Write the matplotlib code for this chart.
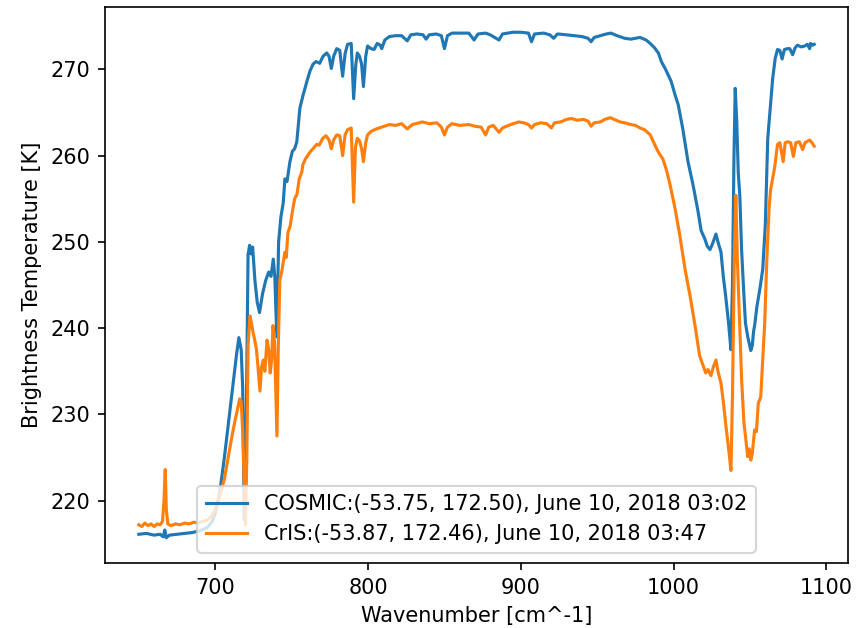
import matplotlib
matplotlib.use("Agg")
import matplotlib.pyplot as plt

# COSMIC simulated spectrum (wavenumber, brightness temperature)
cosmic_wn = [650, 655, 660, 664, 666, 667, 668, 670, 675, 680, 685, 690, 695, 698,
             700, 703, 706, 709, 712, 714, 715.5, 717, 718, 719, 720.5, 721.5, 722.5,
             723.5, 724.5, 726, 727.5, 729, 731, 733, 735, 736.5, 738, 739, 740.3,
             741.5, 743, 744.5, 745.6, 747, 748.9, 750.5, 752, 753.4, 755.4, 757.5,
             760, 762, 764, 766, 768.4, 770.5, 773, 774.5, 776, 777.5, 779.5, 781.5,
             783.4, 785, 786.6, 789, 790.6, 792, 793, 794.5, 795.8, 797, 798.5, 799.7,
             802, 804, 806, 808, 809, 811, 814, 818, 822, 825.7, 828, 832, 836, 838,
             840, 844.6, 848, 850, 852, 855, 860, 866, 869.4, 872, 877, 880, 885.7,
             888, 895, 900, 905, 907, 909, 915, 919, 921.5, 924, 930, 935, 940, 944,
             946, 948, 952, 956, 959, 963, 968, 972, 975, 978, 982, 984.7, 987.5, 990,
             992, 995, 998.4, 1001, 1003, 1006, 1009.4, 1011, 1012.7, 1016, 1018,
             1020.5, 1022, 1023.8, 1025.5, 1027.7, 1029, 1031, 1032.5, 1034, 1036,
             1037.5, 1038.5, 1039.5, 1040.3, 1041.3, 1042.3, 1043.3, 1044.5, 1046,
             1047, 1048.5, 1049.5, 1050.5, 1051.5, 1052.3, 1053, 1054.5, 1056.4,
             1058.3, 1060, 1061.6, 1063, 1064.8, 1066.5, 1068, 1069.5, 1071, 1072.5,
             1074.6, 1076, 1077.9, 1079.5, 1081, 1083.5, 1085.7, 1087.5, 1089, 1089.6,
             1091, 1092]
cosmic_bt = [216.1, 216.2, 216.0, 216.1, 215.8, 216.6, 215.7, 216.0, 216.1, 216.2, 216.3,
             216.5, 216.9, 217.6, 218.5, 221.0, 225.0, 229.5, 234.0, 237.0, 238.9, 237.5,
             233.0, 217.8, 232.0, 248.5, 249.6, 248.6, 249.4, 245.5, 243.0, 241.8, 244.0,
             245.5, 246.5, 246.0, 248.0, 246.0, 239.0, 250.0, 252.9, 254.5, 257.3, 257.0,
             259.3, 260.5, 260.8, 261.6, 265.5, 267.0, 268.6, 269.8, 270.6, 270.9, 270.7,
             271.5, 271.9, 271.5, 270.1, 271.5, 272.4, 272.2, 269.2, 271.8, 272.9, 273.0,
             266.6, 270.5, 271.9, 271.5, 270.6, 268.0, 271.5, 272.7, 272.4, 272.3, 273.0,
             272.8, 272.4, 273.4, 273.8, 273.9, 273.9, 273.3, 274.0, 274.1, 274.0, 273.5,
             274.0, 274.1, 273.9, 272.4, 273.9, 274.2, 274.2, 274.2, 273.4, 274.1, 274.2,
             274.0, 273.4, 274.1, 274.3, 274.3, 274.2, 273.2, 274.1, 274.2, 274.0, 273.6,
             274.1, 274.0, 273.9, 273.8, 273.6, 273.2, 273.7, 273.9, 274.1, 274.2, 273.9,
             273.6, 273.5, 273.6, 273.7, 273.4, 273.0, 272.5, 271.9, 270.9, 269.9, 268.6,
             267.0, 265.9, 263.1, 259.3, 258.0, 256.6, 253.5, 251.3, 250.3, 249.5, 249.1,
             249.8, 250.9, 250.0, 248.8, 246.0, 243.8, 240.5, 237.5, 245.0, 260.0, 267.8,
             264.0, 258.0, 255.4, 249.0, 243.8, 240.6, 239.0, 238.2, 237.4, 238.0, 239.6,
             240.3, 242.5, 244.5, 246.8, 252.0, 262.0, 265.0, 268.9, 271.3, 272.3, 272.2,
             271.2, 272.3, 272.4, 272.4, 271.7, 272.5, 272.8, 272.6, 272.7, 272.9, 272.4,
             273.0, 272.8, 272.9]

# CrIS observed spectrum
cris_wn = [650, 652, 654, 656, 658, 660, 662, 664, 665.5, 666.5, 667.3, 668, 669, 671,
           674, 677, 680, 683, 686, 689, 692, 695, 698, 700, 703, 706, 709, 711, 713,
           714.5, 716, 717, 718, 719, 719.8, 720.7, 721.5, 722.8, 723.8, 724.8, 726,
           727, 728, 729.3, 730.3, 731.5, 732.5, 733.9, 735, 736, 737, 737.8, 738.8,
           739.6, 740.4, 741.3, 742.3, 743.5, 745.6, 746.5, 747.6, 749, 750.8, 752,
           753.5, 755, 756.7, 757.3, 759, 762, 764, 766.4, 768, 770.4, 772.5, 774.5,
           776, 777.5, 779.5, 781.5, 783.4, 785, 786.6, 789, 790.6, 791.8, 793, 794.5,
           795.8, 797, 798.5, 799.7, 802, 805.5, 809, 814, 818, 822, 825.7, 829, 835.5,
           840, 845, 848, 850, 852, 855, 860, 866, 870, 874, 877, 879, 882, 885.7, 888,
           892, 895, 898.7, 902, 905, 907, 909, 913, 917, 920, 922, 926, 930, 933, 937,
           941, 944, 946, 948, 952, 955, 958.6, 961, 965, 968, 972, 975, 978, 981,
           984.7, 987, 990, 993, 995.5, 997.7, 1001, 1004, 1007.5, 1010.7, 1014, 1017,
           1019, 1021, 1022.5, 1024.4, 1026, 1027.7, 1029, 1031, 1032.5, 1034, 1036,
           1037.5, 1038.5, 1039.7, 1040.7, 1041.7, 1043.3, 1044.5, 1046, 1047, 1048.5,
           1049.5, 1050.5, 1051.5, 1053, 1054.2, 1055.4, 1057, 1058.2, 1059.6, 1061,
           1062.5, 1063.5, 1066, 1068, 1069.5, 1071.7, 1073, 1074.6, 1076.5, 1078.4,
           1080, 1082.3, 1084.4, 1086, 1088, 1089, 1090.5, 1092]
cris_bt = [217.2, 217.0, 217.4, 217.1, 217.3, 217.0, 217.3, 217.2, 217.6, 220.0, 223.6,
           219.0, 217.3, 217.1, 217.3, 217.2, 217.4, 217.3, 217.5, 217.4, 217.6, 217.8,
           218.3, 219.0, 220.6, 222.5, 225.5, 227.5, 229.3, 230.5, 231.8, 231.5, 228.0,
           222.0, 217.2, 225.0, 238.0, 241.4, 240.5, 239.5, 238.5, 237.5, 235.5, 232.7,
           235.5, 236.3, 235.0, 238.6, 237.5, 234.8, 236.5, 240.3, 238.5, 233.0, 227.5,
           238.0, 245.6, 246.5, 248.8, 248.2, 251.1, 251.8, 253.8, 255.0, 255.5, 257.3,
           258.1, 258.9, 259.6, 260.4, 260.8, 261.3, 261.2, 262.0, 262.3, 261.8, 260.8,
           261.8, 262.4, 262.3, 260.0, 262.4, 263.0, 263.2, 254.6, 261.0, 262.0, 261.7,
           260.8, 259.3, 261.5, 262.4, 262.8, 263.1, 263.3, 263.6, 263.5, 263.7, 263.1,
           263.6, 263.9, 263.7, 263.8, 263.3, 262.4, 263.3, 263.7, 263.5, 263.6, 263.4,
           263.3, 262.4, 263.3, 263.5, 262.7, 263.2, 263.5, 263.7, 263.9, 263.8, 263.6,
           263.2, 263.6, 263.8, 263.7, 263.2, 263.8, 263.9, 264.2, 264.3, 264.1, 264.2,
           264.0, 263.4, 263.8, 263.9, 264.2, 264.4, 264.2, 263.9, 263.8, 263.6, 263.5,
           263.2, 263.0, 262.4, 261.5, 260.4, 259.6, 258.2, 256.6, 253.8, 250.8, 246.8,
           243.8, 240.3, 236.8, 235.8, 234.8, 235.2, 234.5, 235.5, 236.3, 235.0, 233.6,
           231.5, 229.0, 226.0, 223.5, 232.0, 248.0, 255.4, 248.0, 239.8, 234.0, 229.0,
           227.5, 225.1, 226.0, 224.7, 225.5, 228.2, 228.0, 231.3, 232.0, 236.0, 240.6,
           248.0, 254.0, 256.1, 258.5, 261.3, 261.5, 259.3, 261.5, 261.6, 261.5, 259.9,
           261.5, 261.6, 260.7, 261.5, 261.7, 261.8, 261.5, 261.1]

cosmic_label = "COSMIC:(-53.75, 172.50), June 10, 2018 03:02"
cris_label = "CrIS:(-53.87, 172.46), June 10, 2018 03:47"

fig = plt.figure(figsize=(863 / 150, 628 / 150), dpi=150)
ax = fig.add_axes([0.1217, 0.1035, 0.8609, 0.8854])

ax.plot(cosmic_wn, cosmic_bt, label=cosmic_label)
ax.plot(cris_wn, cris_bt, label=cris_label)

ax.set_xlabel("Wavenumber [cm^-1]")
ax.set_ylabel("Brightness Temperature [K]")
ax.legend(loc="lower center")

fig.savefig("out.png", dpi=150)
